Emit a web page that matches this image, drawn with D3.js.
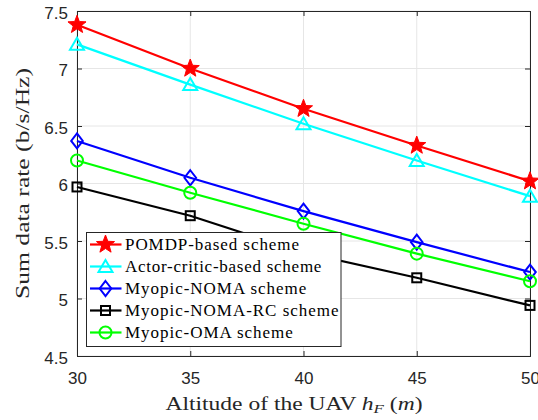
<!DOCTYPE html>
<html>
<head>
<meta charset="utf-8">
<script src="https://cdn.jsdelivr.net/npm/d3@7"></script>
<style>
  html, body { margin: 0; padding: 0; background: #fff; }
  svg { display: block; }
</style>
</head>
<body>
<svg id="chart" width="538" height="420"></svg>
<script>
// Sum data rate versus UAV altitude for five schemes
const altitudes = [30, 35, 40, 45, 50];
const xTicks = [30, 35, 40, 45, 50];
const yTicks = [4.5, 5, 5.5, 6, 6.5, 7, 7.5];

const pomdp       = [7.38, 7.00, 6.65, 6.33, 6.02];
const actorCritic = [7.21, 6.86, 6.52, 6.20, 5.89];
const myopicNoma  = [6.37, 6.05, 5.76, 5.49, 5.23];
const myopicNomaRc = [5.97, 5.72, 5.40, 5.18, 4.94];
const myopicOma   = [6.20, 5.92, 5.65, 5.39, 5.15];

const seriesNames = [
  "POMDP-based scheme",
  "Actor-critic-based scheme",
  "Myopic-NOMA scheme",
  "Myopic-NOMA-RC scheme",
  "Myopic-OMA scheme"
];
const seriesValues = [pomdp, actorCritic, myopicNoma, myopicNomaRc, myopicOma];
const seriesColors = ["#ff0000", "#00ffff", "#0000ff", "#000000", "#00ff00"];
const seriesMarkers = ["star", "triangle", "diamond", "square", "circle"];

const W = 538, H = 420;
const margin = { left: 77, right: 8, top: 11, bottom: 64 };
const svg = d3.select("#chart");

const x = d3.scaleLinear().domain([30, 50]).range([margin.left, W - margin.right]);
const y = d3.scaleLinear().domain([4.5, 7.5]).range([H - margin.bottom, margin.top]);

const axisColor = "#262626";
const gridColor = "#e6e6e6";
const tickFont = "'Liberation Sans', Arial, sans-serif";
const serifFont = "'Liberation Serif', 'Times New Roman', serif";
// legend text is tracked a little wider than the font's natural advance
const legendTracking = 1.1;

// grid lines
const grid = svg.append("g");
grid.selectAll("line.gx").data(xTicks).join("line")
  .attr("x1", d => x(d)).attr("x2", d => x(d))
  .attr("y1", y(4.5)).attr("y2", y(7.5))
  .attr("stroke", gridColor).attr("stroke-width", 1);
grid.selectAll("line.gy").data(yTicks).join("line")
  .attr("x1", x(30)).attr("x2", x(50))
  .attr("y1", d => y(d)).attr("y2", d => y(d))
  .attr("stroke", gridColor).attr("stroke-width", 1);

// axes with inward ticks on all four sides
const fmt = d => String(d);
const bottomAxis = d3.axisBottom(x).tickValues(xTicks).tickSize(-5).tickFormat(fmt);
const topAxis = d3.axisTop(x).tickValues(xTicks).tickSize(-5).tickFormat("");
const leftAxis = d3.axisLeft(y).tickValues(yTicks).tickSize(-5).tickFormat(fmt);
const rightAxis = d3.axisRight(y).tickValues(yTicks).tickSize(-5).tickFormat("");

function styleAxis(g) {
  g.select(".domain").attr("stroke", axisColor).attr("stroke-width", 1);
  g.selectAll(".tick line").attr("stroke", axisColor).attr("stroke-width", 1);
  g.selectAll(".tick text")
    .attr("fill", axisColor)
    .style("font-family", tickFont)
    .style("font-size", "17px");
}

svg.append("g").attr("transform", `translate(0,${y(4.5)})`).call(bottomAxis).call(styleAxis)
  .call(g => g.selectAll(".tick text").attr("dy", 0).attr("y", 27.5));
svg.append("g").attr("transform", `translate(0,${y(7.5)})`).call(topAxis).call(styleAxis);
svg.append("g").attr("transform", `translate(${x(30)},0)`).call(leftAxis).call(styleAxis)
  .call(g => g.selectAll(".tick text").attr("dy", 0).attr("y", 7).attr("x", -9));
svg.append("g").attr("transform", `translate(${x(50)},0)`).call(rightAxis).call(styleAxis);

// marker shapes
function starPath(R) {
  const r = R * 0.42;
  const pts = [];
  for (let i = 0; i < 10; i++) {
    const a = -Math.PI / 2 + i * Math.PI / 5;
    const rr = i % 2 === 0 ? R : r;
    pts.push([rr * Math.cos(a), rr * Math.sin(a)]);
  }
  return "M" + pts.map(p => p.join(",")).join("L") + "Z";
}
function drawMarker(g, type, color) {
  if (type === "star") {
    g.append("path").attr("d", starPath(9.5)).attr("fill", color).attr("stroke", color).attr("stroke-width", 1);
  } else if (type === "triangle") {
    g.append("path").attr("d", "M0,-6.5L7,5.5L-7,5.5Z").attr("fill", "none").attr("stroke", color).attr("stroke-width", 2);
  } else if (type === "diamond") {
    g.append("path").attr("d", "M0,-7.5L5.8,0L0,7.5L-5.8,0Z").attr("fill", "none").attr("stroke", color).attr("stroke-width", 2);
  } else if (type === "square") {
    g.append("rect").attr("x", -4.5).attr("y", -4.5).attr("width", 9).attr("height", 9)
      .attr("fill", "none").attr("stroke", color).attr("stroke-width", 2);
  } else if (type === "circle") {
    g.append("circle").attr("r", 6).attr("fill", "none").attr("stroke", color).attr("stroke-width", 2);
  }
}

function track(sel) {
  const w = sel.node().getComputedTextLength();
  sel.attr("textLength", w * legendTracking).attr("lengthAdjust", "spacing");
}

// series lines and markers
const line = d3.line().x((d, i) => x(altitudes[i])).y(d => y(d));
seriesValues.forEach((vals, k) => {
  const g = svg.append("g");
  g.append("path").datum(vals).attr("d", line)
    .attr("fill", "none").attr("stroke", seriesColors[k]).attr("stroke-width", 2.2);
  vals.forEach((v, i) => {
    const m = g.append("g").attr("transform", `translate(${x(altitudes[i])},${y(v)})`);
    drawMarker(m, seriesMarkers[k], seriesColors[k]);
  });
});

// legend
const legend = svg.append("g");
legend.append("rect")
  .attr("x", 86.5).attr("y", 232.5).attr("width", 254.5).attr("height", 114)
  .attr("fill", "#fff").attr("stroke", axisColor).attr("stroke-width", 1);
seriesNames.forEach((name, k) => {
  const cy = 244.5 + k * 22;
  legend.append("line").attr("x1", 90).attr("x2", 121.5).attr("y1", cy).attr("y2", cy)
    .attr("stroke", seriesColors[k]).attr("stroke-width", 2.2);
  const m = legend.append("g").attr("transform", `translate(105.5,${cy})`);
  drawMarker(m, seriesMarkers[k], seriesColors[k]);
  legend.append("text").attr("x", 125).attr("y", cy + 5.5)
    .style("font-family", serifFont).style("font-size", "17px").attr("fill", "#000")
    .text(name)
    .call(track);
});

// axis titles
const xl = svg.append("text")
  .attr("x", 294).attr("y", 409.5).attr("text-anchor", "middle")
  .style("font-family", serifFont).style("font-size", "18px").attr("fill", axisColor);
xl.append("tspan").text("Altitude of the UAV ");
xl.append("tspan").style("font-style", "italic").text("h");
xl.append("tspan").style("font-style", "italic").style("font-size", "13px").attr("dy", 3).text("F");
xl.append("tspan").attr("dy", -3).text(" (");
xl.append("tspan").style("font-style", "italic").text("m");
xl.append("tspan").text(")");
xl.attr("textLength", 257).attr("lengthAdjust", "spacingAndGlyphs");

svg.append("text")
  .attr("transform", `translate(29,${(y(4.5) + y(7.5)) / 2}) rotate(-90)`)
  .attr("text-anchor", "middle")
  .style("font-family", serifFont).style("font-size", "18px").attr("fill", axisColor)
  .attr("textLength", 231).attr("lengthAdjust", "spacingAndGlyphs")
  .text("Sum data rate (b/s/Hz)");
</script>
</body>
</html>
